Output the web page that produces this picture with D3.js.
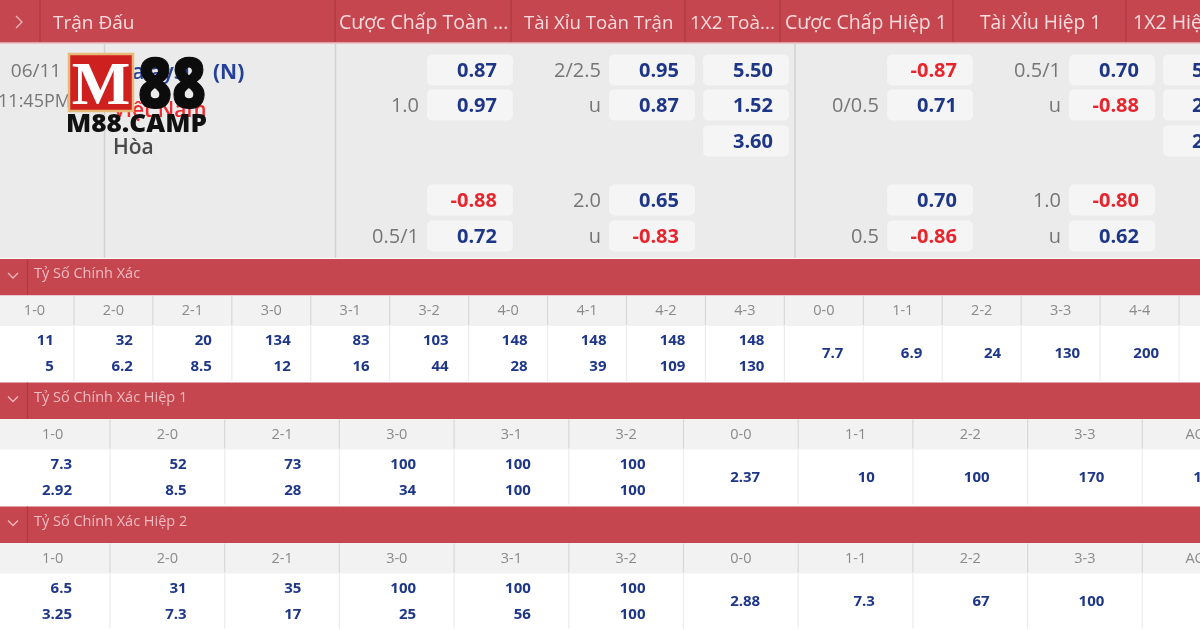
<!DOCTYPE html>
<html>
<head>
<meta charset="utf-8">
<title>Tỷ lệ kèo M88</title>
<script src="https://d3js.org/d3.v7.min.js"></script>
<style>
  html, body { margin: 0; padding: 0; background: #fff; overflow: hidden; }
  svg { display: block; filter: blur(0.35px); }
  text { font-family: "Open Sans", "Noto Sans", sans-serif; }
</style>
</head>
<body>
<script>
// top table
var headerLabels = ["Trận Đấu", "Cược Chấp Toàn ...", "Tài Xỉu Toàn Trận", "1X2 Toà...", "Cược Chấp Hiệp 1", "Tài Xỉu Hiệp 1", "1X2 Hiệp 1"];
var ftHandicapLines = [null, "1.0", null, null, "0.5/1"];
var ftHandicapOdds = ["0.87", "0.97", null, "-0.88", "0.72"];
var ftTotalLines = ["2/2.5", "u", null, "2.0", "u"];
var ftTotalOdds = ["0.95", "0.87", null, "0.65", "-0.83"];
var ft1x2Odds = ["5.50", "1.52", "3.60", null, null];
var htHandicapLines = [null, "0/0.5", null, null, "0.5"];
var htHandicapOdds = ["-0.87", "0.71", null, "0.70", "-0.86"];
var htTotalLines = ["0.5/1", "u", null, "1.0", "u"];
var htTotalOdds = ["0.70", "-0.88", null, "-0.80", "0.62"];
var ht1x2Odds = ["5", "2", "2", null, null]; // only first digit is visible

// correct score tables
var scoreLabels = ["1-0","2-0","2-1","3-0","3-1","3-2","4-0","4-1","4-2","4-3","0-0","1-1","2-2","3-3","4-4"];
var scoreHome = ["11","32","20","134","83","103","148","148","148","148","7.7","6.9","24","130","200"];
var scoreAway = ["5","6.2","8.5","12","16","44","28","39","109","130",null,null,null,null,null];
var halfLabels = ["1-0","2-0","2-1","3-0","3-1","3-2","0-0","1-1","2-2","3-3","AOS"];
var half1Home = ["7.3","52","73","100","100","100","2.37","10","100","170","100"];
var half1Away = ["2.92","8.5","28","34","100","100",null,null,null,null,null];
var half2Home = ["6.5","31","35","100","100","100","2.88","7.3","67","100",null];
var half2Away = ["3.25","7.3","17","25","56","100",null,null,null,null,null];

var W = 1200, H = 630;
var RED = "#c6464f", NAVY = "#1e3688", MINUS = "#e8252d", GREY = "#767676";

var svg = d3.select("body").append("svg").attr("width", W).attr("height", H);
svg.append("rect").attr("width", W).attr("height", H).attr("fill", "#fff");

function vline(x, y1, y2, color, w) {
  svg.append("line").attr("x1", x).attr("x2", x).attr("y1", y1).attr("y2", y2)
    .attr("stroke", color).attr("stroke-width", w || 1);
}
function label(x, y, str, size, color, anchor, weight) {
  return svg.append("text").attr("x", x).attr("y", y).attr("dy", "0.35em")
    .attr("font-size", size).attr("fill", color)
    .attr("text-anchor", anchor || "start").attr("font-weight", weight || 400).text(str);
}
function chevron(cx, cy, down) {
  var p = down ? [[-5, -2], [0, 3], [5, -2]] : [[-3, -6], [3, 0], [-3, 6]];
  svg.append("path").attr("d", d3.line().x(function(d) { return cx + d[0]; }).y(function(d) { return cy + d[1]; })(p))
    .attr("fill", "none").attr("stroke", "#eeb9bd").attr("stroke-width", 1.3);
}

// header band
svg.append("rect").attr("width", W).attr("height", 42).attr("fill", RED);
svg.append("rect").attr("y", 42).attr("width", W).attr("height", 216).attr("fill", "#ebebeb");
svg.append("rect").attr("y", 42).attr("width", W).attr("height", 1.5).attr("fill", "#e3a0a5");
[40, 335, 511, 685, 780, 953, 1126].forEach(function(x) { vline(x, 0, 42, "#b23b44", 1.5); });
[104.5, 335.5, 795].forEach(function(x) { vline(x, 43, 258, "#d2d2d2", 1.5); });
chevron(19, 22, false);

var headerX = [53, 339, 524, 690, 785, 980, 1133];
var headerSize = [19, 19.5, 18.6, 19, 19.5, 19.2, 19.5];
headerLabels.forEach(function(d, i) {
  label(headerX[i], 22, d, headerSize[i], "#f6dcde");
});

// match info
label(36, 70, "06/11", 19, GREY, "middle");
label(34.5, 101, "11:45PM", 18, GREY, "middle");
label(113, 72, "Malaysia", 21, "#24409a", "start", 600);
label(213, 72, "(N)", 21, "#24409a", "start", 700);
label(113, 110, "Việt Nam", 21, "#ee2a30", "start", 600);
label(113, 147, "Hòa", 21, "#4a4a4a", "start", 600);

// odds columns
var rowY = d3.scaleOrdinal([0, 1, 2, 3, 4], [70, 105, 141, 200, 236]);
var pillW = 86, pillH = 31;

function oddsColumn(pillX, lines, odds) {
  odds.forEach(function(v, i) {
    if (v === null) return;
    svg.append("rect").attr("x", pillX).attr("y", rowY(i) - pillH / 2)
      .attr("width", pillW).attr("height", pillH).attr("rx", 5).attr("fill", "#f5f5f5");
    label(pillX + 70, rowY(i), v, 20, +v < 0 ? MINUS : NAVY, "end", 700);
  });
  if (!lines) return;
  lines.forEach(function(v, i) {
    if (v !== null) label(pillX - 8, rowY(i), v, 20, GREY, "end");
  });
}
oddsColumn(427, ftHandicapLines, ftHandicapOdds);
oddsColumn(609, ftTotalLines, ftTotalOdds);
oddsColumn(703, null, ft1x2Odds);
oddsColumn(887, htHandicapLines, htHandicapOdds);
oddsColumn(1069, htTotalLines, htTotalOdds);
// last column runs off the page, digit sits at the left of the number
ht1x2Odds.forEach(function(v, i) {
  if (v === null) return;
  svg.append("rect").attr("x", 1163).attr("y", rowY(i) - pillH / 2)
    .attr("width", pillW).attr("height", pillH).attr("rx", 5).attr("fill", "#f5f5f5");
  label(1192, rowY(i), v, 20, NAVY, "start", 700);
});

// correct score sections
function scoreSection(top, title, labels, home, away, x, padRight) {
  svg.append("rect").attr("y", top).attr("width", W).attr("height", 36.5).attr("fill", RED);
  svg.append("rect").attr("y", top + 36.5).attr("width", W).attr("height", 30.5).attr("fill", "#f2f2f2");
  vline(27.5, top, top + 36, "#ad3a43", 1.2);
  chevron(13, top + 16, true);
  label(34, top + 14, title, 14.5, "#eebcc1");

  var step = x(1) - x(0);
  d3.range(0, x.domain()[1] + 1).forEach(function(i) {
    vline(x(i), top + 37, top + 66, "#d8d8d8", 1.2);
    vline(x(i), top + 67, top + 122, "#ececec", 1.2);
  });
  labels.forEach(function(d, i) {
    label(x(i) + step / 2, top + 51, d, 14.5, "#8a8a8a", "middle");
  });
  home.forEach(function(v, i) {
    if (v === null) return;
    var right = x(i + 1) - padRight;
    if (away[i] === null) {
      label(right, top + 94, v, 15, NAVY, "end", 700);
    } else {
      label(right, top + 81, v, 15, NAVY, "end", 700);
      label(right, top + 107, away[i], 15, NAVY, "end", 700);
    }
  });
}

var xScore = d3.scaleLinear().domain([0, 16]).range([-5, 1258]);
var xHalf = d3.scaleLinear().domain([0, 11]).range([-4.7, 1257]);
scoreSection(259, "Tỷ Số Chính Xác", scoreLabels, scoreHome, scoreAway, xScore, 20);
scoreSection(382.5, "Tỷ Số Chính Xác Hiệp 1", halfLabels, half1Home, half1Away, xHalf, 38);
scoreSection(506.5, "Tỷ Số Chính Xác Hiệp 2", halfLabels, half2Home, half2Away, xHalf, 38);

// watermark logo
var logo = svg.append("g");
logo.append("rect").attr("x", 69).attr("y", 54).attr("width", 64).attr("height", 57)
  .attr("fill", "#cf2020").attr("stroke", "#e8b878").attr("stroke-width", 2.5);
logo.append("text").attr("x", 101).attr("y", 104).attr("text-anchor", "middle")
  .attr("font-size", 62).attr("font-weight", 700).attr("fill", "#fff")
  .style("font-family", "'Liberation Serif', serif").text("M");
logo.append("text").attr("x", 172).attr("y", 107.5).attr("text-anchor", "middle")
  .attr("font-size", 69).attr("font-weight", 800).attr("fill", "#0c0c0c")
  .attr("stroke", "#0c0c0c").attr("stroke-width", 1.2)
  .attr("textLength", 68).attr("lengthAdjust", "spacingAndGlyphs").text("88");
logo.append("text").attr("x", 66).attr("y", 132)
  .attr("font-size", 24.5).attr("font-weight", 800).attr("fill", "#111")
  .attr("textLength", 141).attr("lengthAdjust", "spacingAndGlyphs").text("M88.CAMP");
</script>
</body>
</html>
